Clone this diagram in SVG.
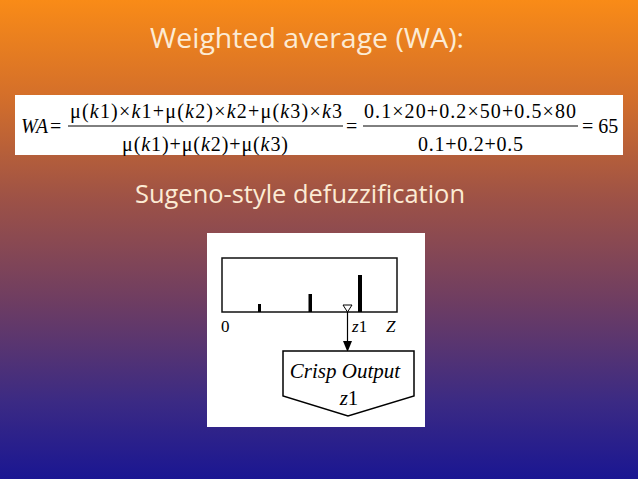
<svg xmlns="http://www.w3.org/2000/svg" width="638" height="479" viewBox="0 0 638 479">
<defs>
<linearGradient id="bg" x1="0" y1="0" x2="0" y2="1">
<stop offset="0" stop-color="#f98b17"/>
<stop offset="0.2" stop-color="#d46f2a"/>
<stop offset="0.42" stop-color="#9c5147"/>
<stop offset="0.63" stop-color="#6e3d62"/>
<stop offset="0.84" stop-color="#3b2a84"/>
<stop offset="1" stop-color="#1a1692"/>
</linearGradient>
<style>
.hd{font-family:"Open Sans","Liberation Sans",sans-serif;fill:#fcebd4}
.m{font-family:"Liberation Serif","Times New Roman",serif;fill:#000;font-size:20px}
.i{font-style:italic}
.d{font-family:"Liberation Serif","Times New Roman",serif;fill:#000}
</style>
</defs>
<rect width="638" height="479" fill="url(#bg)"/>
<text class="hd" x="150" y="48" font-size="28" textLength="314" lengthAdjust="spacingAndGlyphs">Weighted average (WA):</text>
<g id="formula">
<rect x="15" y="95" width="608" height="60" fill="#fff"/>
<text class="m i" x="21" y="133" textLength="27" lengthAdjust="spacingAndGlyphs">WA</text>
<text class="m" x="50" y="133">=</text>
<text class="m" x="70" y="118" textLength="272" lengthAdjust="spacing">μ(<tspan class="i">k</tspan>1)×<tspan class="i">k</tspan>1+μ(<tspan class="i">k</tspan>2)×<tspan class="i">k</tspan>2+μ(<tspan class="i">k</tspan>3)×<tspan class="i">k</tspan>3</text>
<line x1="68" y1="126" x2="343" y2="126" stroke="#000" stroke-width="1"/>
<text class="m" x="122" y="151" textLength="166" lengthAdjust="spacing">μ(<tspan class="i">k</tspan>1)+μ(<tspan class="i">k</tspan>2)+μ(<tspan class="i">k</tspan>3)</text>
<text class="m" x="346" y="133">=</text>
<text class="m" x="364" y="118" textLength="212" lengthAdjust="spacing">0.1×20+0.2×50+0.5×80</text>
<line x1="363" y1="126" x2="578" y2="126" stroke="#000" stroke-width="1"/>
<text class="m" x="418" y="151" textLength="105" lengthAdjust="spacing">0.1+0.2+0.5</text>
<text class="m" x="582" y="133">= 65</text>
</g>
<text class="hd" x="135" y="203" font-size="25" textLength="330" lengthAdjust="spacingAndGlyphs">Sugeno-style defuzzification</text>
<g id="sugeno-diagram">
<rect x="207" y="233" width="218" height="194" fill="#fff"/>
<rect x="222" y="258" width="175" height="54" fill="none" stroke="#111" stroke-width="1.5"/>
<rect x="258" y="304" width="3" height="8" fill="#000"/>
<rect x="308.5" y="294" width="3.5" height="18" fill="#000"/>
<rect x="358" y="275" width="4" height="37" fill="#000"/>
<text class="d" x="221" y="332" font-size="17">0</text>
<text class="d" x="352" y="332" font-size="17"><tspan class="i">z</tspan>1</text>
<text class="d i" x="386" y="332" font-size="17">Z</text>
</g>
<g id="connectors">
<polygon points="343,305 352,305 347.5,312" fill="#fff" stroke="#000" stroke-width="1"/>
<line x1="347.5" y1="312" x2="347.5" y2="342" stroke="#000" stroke-width="1.2"/>
<polygon points="343,341 352,341 347.5,352" fill="#000"/>
</g>
<g id="crisp-output">
<polygon points="283,351 414,351 414,396 348,416 283,396" fill="#fff" stroke="#000" stroke-width="1.5"/>
<text class="d i" x="345" y="378" font-size="21" text-anchor="middle">Crisp Output</text>
<text class="d" x="349" y="405" font-size="21" text-anchor="middle"><tspan class="i">z</tspan>1</text>
</g>
</svg>
